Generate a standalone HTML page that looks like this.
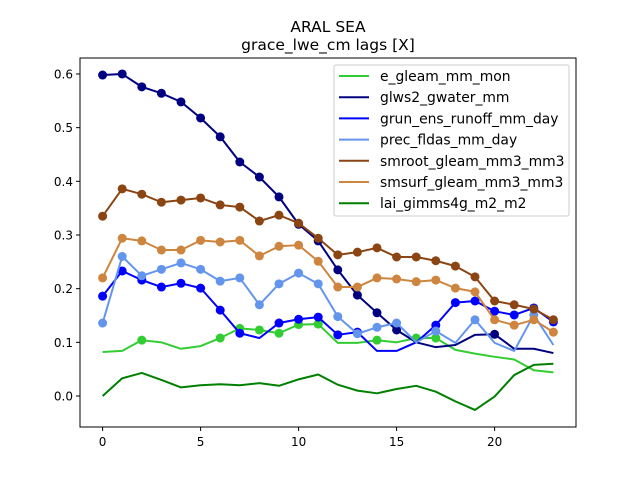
<!DOCTYPE html>
<html><head><meta charset="utf-8"><style>
body{margin:0;background:#fff}
svg{display:block;font-family:"DejaVu Sans","Liberation Sans",sans-serif}
</style></head><body>
<svg id="chart" width="640" height="480" viewBox="0 0 640 480">
<rect width="640" height="480" fill="#fff"/>
<text x="328" y="32" text-anchor="middle" font-size="15.5" fill="#000">ARAL SEA</text>
<text x="328" y="50" text-anchor="middle" font-size="15.5" fill="#000">grace_lwe_cm lags [X]</text>
<g id="plot"></g>
<rect x="80" y="58" width="496" height="369" fill="none" stroke="#000" stroke-width="1"/>
<g id="legend"></g>
</svg>
<script>
const lags=[0,1,2,3,4,5,6,7,8,9,10,11,12,13,14,15,16,17,18,19,20,21,22,23];
const xTicks=[0,5,10,15,20];
const yTicks=[0.0,0.1,0.2,0.3,0.4,0.5,0.6];
const names=["e_gleam_mm_mon","glws2_gwater_mm","grun_ens_runoff_mm_day","prec_fldas_mm_day","smroot_gleam_mm3_mm3","smsurf_gleam_mm3_mm3","lai_gimms4g_m2_m2"];
const colors=["#32cd32","#000080","#0000ff","#6495ed","#8b4513","#cd853f","#008000"];
const eGleam=[0.082,0.084,0.104,0.100,0.088,0.093,0.108,0.126,0.123,0.117,0.133,0.134,0.099,0.099,0.104,0.100,0.108,0.108,0.086,0.079,0.073,0.068,0.048,0.044];
const glws2=[0.598,0.600,0.576,0.564,0.548,0.518,0.483,0.436,0.408,0.371,0.320,0.289,0.235,0.188,0.155,0.123,0.100,0.091,0.095,0.114,0.115,0.088,0.088,0.080];
const grun=[0.186,0.233,0.216,0.203,0.210,0.201,0.160,0.117,0.108,0.136,0.143,0.147,0.114,0.119,0.084,0.084,0.100,0.132,0.174,0.177,0.158,0.151,0.164,0.138];
const prec=[0.136,0.260,0.224,0.236,0.248,0.236,0.214,0.220,0.170,0.209,0.229,0.209,0.148,0.116,0.128,0.136,0.100,0.121,0.099,0.142,0.099,0.084,0.151,0.095];
const smroot=[0.335,0.386,0.376,0.361,0.365,0.369,0.356,0.352,0.326,0.337,0.322,0.294,0.263,0.268,0.276,0.259,0.259,0.252,0.242,0.222,0.177,0.170,0.162,0.142];
const smsurf=[0.220,0.294,0.289,0.272,0.272,0.290,0.287,0.290,0.261,0.279,0.281,0.251,0.203,0.203,0.220,0.218,0.213,0.216,0.201,0.194,0.142,0.132,0.142,0.119];
const lai=[0.000,0.033,0.043,0.030,0.016,0.020,0.022,0.020,0.024,0.019,0.031,0.040,0.021,0.010,0.005,0.013,0.019,0.008,-0.010,-0.026,-0.001,0.039,0.058,0.060];
const mkE=[0,0,1,0,0,0,1,1,1,1,1,1,0,0,1,0,1,1,0,0,0,0,0,0];
const mkG=[1,1,1,1,1,1,1,1,1,1,1,1,1,1,1,1,0,0,0,0,1,0,0,0];
const mkR=[1,1,1,1,1,1,1,1,0,1,1,1,1,1,0,0,0,1,1,1,1,1,1,1];
const mkP=[1,1,1,1,1,1,1,1,1,1,1,1,1,1,1,1,0,1,0,1,0,0,1,0];
const mkAll=[1,1,1,1,1,1,1,1,1,1,1,1,1,1,1,1,1,1,1,1,1,1,1,1];
const mkNone=[0,0,0,0,0,0,0,0,0,0,0,0,0,0,0,0,0,0,0,0,0,0,0,0];
const series=[eGleam,glws2,grun,prec,smroot,smsurf,lai];
const marks=[mkE,mkG,mkR,mkP,mkAll,mkAll,mkNone];
const NS="http://www.w3.org/2000/svg";
const X=v=>102.6+19.6*v;
const Y=v=>396-536.7*v;
const plot=document.getElementById('plot');
function mk(t,a,p){const e=document.createElementNS(NS,t);for(const k in a)e.setAttribute(k,a[k]);(p||plot).appendChild(e);return e;}
xTicks.forEach(t=>{
 const l=mk('line',{x1:X(t),x2:X(t),y1:427,y2:431,stroke:'#000'});
 
 
 const tx=mk('text',{x:X(t),y:446,'text-anchor':'middle','font-size':'12'});tx.textContent=t;
 
 
});
yTicks.forEach(t=>{
 const l=mk('line',{x1:76,x2:80,y1:Y(t),y2:Y(t),stroke:'#000'});
 
 
 const tx=mk('text',{x:73,y:Y(t)+4.5,'text-anchor':'end','font-size':'12'});tx.textContent=t.toFixed(1);
 
 
});
series.forEach((s,i)=>{
 const g=mk('g',{});
 
 
 const pl=mk('polyline',{points:s.map((v,j)=>X(lags[j])+','+Y(v)).join(' '),fill:'none',stroke:colors[i],'stroke-width':'2','stroke-linejoin':'round'},g);
 
 
 s.forEach((v,j)=>{if(marks[i][j]){
  const c=mk('circle',{cx:X(lags[j]),cy:Y(v),r:4.5,fill:colors[i]},g);
  
  
 }});
});
const lg=document.getElementById('legend');
const box=mk('rect',{x:334,y:65,width:235,height:151,rx:2,fill:'#fff','fill-opacity':'0.8',stroke:'#ccc'},lg);


names.forEach((n,i)=>{
 const y=76+21.2*i;
 const l=mk('line',{x1:339,x2:369,y1:y,y2:y,stroke:colors[i],'stroke-width':'2'},lg);
 
 
 const t=mk('text',{x:380,y:y+5,'font-size':'13.9'},lg);t.textContent=n;
 
 
});
</script>
</body></html>
